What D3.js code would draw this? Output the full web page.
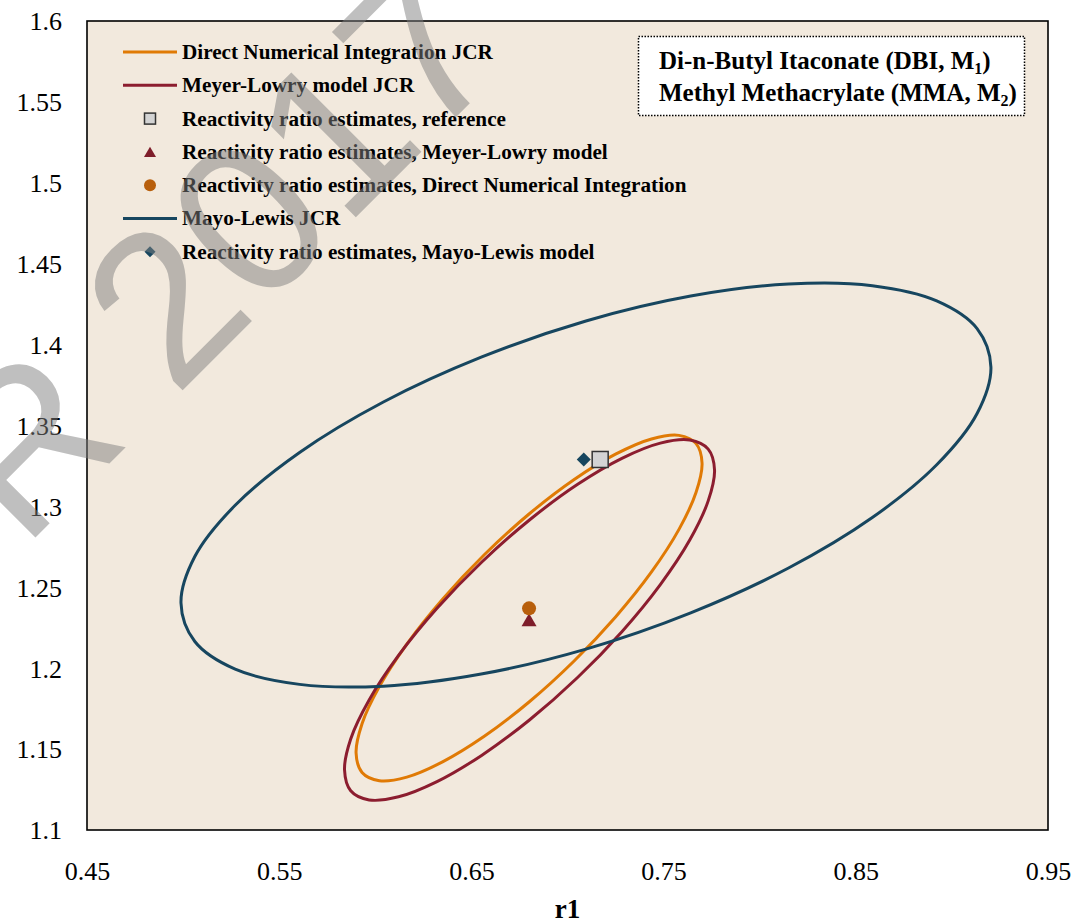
<!DOCTYPE html>
<html>
<head>
<meta charset="utf-8">
<script src="https://cdn.jsdelivr.net/npm/d3@7"></script>
<style>
  html, body { margin: 0; padding: 0; background: #ffffff; }
  svg { display: block; }
</style>
</head>
<body>
<svg id="chart" width="1086" height="923"></svg>
<script>
// Axis ticks and labels
const xTicks = [0.45, 0.55, 0.65, 0.75, 0.85, 0.95];
const xTickLabels = ["0.45", "0.55", "0.65", "0.75", "0.85", "0.95"];
const yTicks = [1.1, 1.15, 1.2, 1.25, 1.3, 1.35, 1.4, 1.45, 1.5, 1.55, 1.6];
const yTickLabels = ["1.1", "1.15", "1.2", "1.25", "1.3", "1.35", "1.4", "1.45", "1.5", "1.55", "1.6"];

// Joint confidence region outlines, [r1, r2] pairs
const dniJCR = [
  [0.7700, 1.3268], [0.7669, 1.3087], [0.7580, 1.2858], [0.7437, 1.2595],
  [0.7250, 1.2317], [0.7033, 1.2043], [0.6800, 1.1791], [0.6567, 1.1579],
  [0.6350, 1.1421], [0.6164, 1.1327], [0.6021, 1.1305], [0.5931, 1.1356],
  [0.5900, 1.1476], [0.5931, 1.1657], [0.6021, 1.1886], [0.6164, 1.2149],
  [0.6350, 1.2427], [0.6567, 1.2701], [0.6800, 1.2953], [0.7033, 1.3165],
  [0.7250, 1.3323], [0.7437, 1.3417], [0.7580, 1.3439], [0.7669, 1.3388]
];
const meyerLowryJCR = [
  [0.7765, 1.3225], [0.7732, 1.3034], [0.7636, 1.2792], [0.7483, 1.2517],
  [0.7283, 1.2226], [0.7051, 1.1941], [0.6802, 1.1680], [0.6553, 1.1461],
  [0.6321, 1.1299], [0.6121, 1.1205], [0.5968, 1.1186], [0.5872, 1.1243],
  [0.5840, 1.1371], [0.5872, 1.1563], [0.5968, 1.1804], [0.6121, 1.2079],
  [0.6321, 1.2370], [0.6553, 1.2655], [0.6802, 1.2916], [0.7051, 1.3135],
  [0.7283, 1.3297], [0.7483, 1.3391], [0.7636, 1.3410], [0.7732, 1.3354]
];
const mayoLewisJCR = [
  [0.9203, 1.3861], [0.9131, 1.4099], [0.8921, 1.4270], [0.8586, 1.4364],
  [0.8150, 1.4374], [0.7641, 1.4300], [0.7096, 1.4146], [0.6551, 1.3922],
  [0.6042, 1.3645], [0.5606, 1.3333], [0.5271, 1.3007], [0.5061, 1.2690],
  [0.4989, 1.2403], [0.5061, 1.2165], [0.5271, 1.1994], [0.5606, 1.1900],
  [0.6042, 1.1889], [0.6551, 1.1964], [0.7096, 1.2118], [0.7641, 1.2342],
  [0.8150, 1.2619], [0.8586, 1.2931], [0.8921, 1.3257], [0.9131, 1.3574]
];

// Point estimates [r1, r2]
const referenceEstimate = [0.717, 1.329];
const meyerLowryEstimate = [0.680, 1.230];
const dniEstimate = [0.680, 1.237];
const mayoLewisEstimate = [0.7095, 1.329];

// Legend entries
const legendLabels = [
  "Direct Numerical Integration JCR",
  "Meyer-Lowry model JCR",
  "Reactivity ratio estimates, reference",
  "Reactivity ratio estimates, Meyer-Lowry model",
  "Reactivity ratio estimates, Direct Numerical Integration",
  "Mayo-Lewis JCR",
  "Reactivity ratio estimates, Mayo-Lewis model"
];
const legendKinds = ["line", "line", "square", "triangle", "circle", "line", "diamond"];

const C = {
  dni: "#e07a05",
  ml: "#8c1d2f",
  mayo: "#17465f",
  dniPt: "#b85f0c",
  mlPt: "#7e1d2a",
  refFill: "#d3d3d3",
  plotBg: "#f2e9dd"
};
const legendColors = [C.dni, C.ml, C.refFill, C.mlPt, C.dniPt, C.mayo, C.mayo];

const serif = "'Liberation Serif', 'Times New Roman', serif";
const svg = d3.select("#chart");

const x = d3.scaleLinear().domain([0.45, 0.95]).range([87, 1048]);
const y = d3.scaleLinear().domain([1.1, 1.6]).range([830, 21]);

// plot area
svg.append("rect")
  .attr("x", x(0.45)).attr("y", y(1.6))
  .attr("width", x(0.95) - x(0.45)).attr("height", y(1.1) - y(1.6))
  .attr("fill", C.plotBg);

// axes (labels only)
const xAxis = svg.append("g")
  .attr("transform", `translate(0,${y(1.1)})`)
  .call(d3.axisBottom(x).tickValues(xTicks).tickSize(0)
    .tickFormat((d, i) => xTickLabels[i]));
xAxis.select(".domain").remove();
xAxis.selectAll("text")
  .attr("y", 50).attr("dy", null)
  .attr("font-family", serif).attr("font-size", 26).attr("fill", "#000");

const yAxis = svg.append("g")
  .attr("transform", `translate(${x(0.45)},0)`)
  .call(d3.axisLeft(y).tickValues(yTicks).tickSize(0)
    .tickFormat((d, i) => yTickLabels[i]));
yAxis.select(".domain").remove();
yAxis.selectAll("text")
  .attr("x", -25).attr("dy", "0.34em")
  .attr("font-family", serif).attr("font-size", 26).attr("fill", "#000");

svg.append("text")
  .attr("x", (x(0.45) + x(0.95)) / 2).attr("y", 918)
  .attr("text-anchor", "middle")
  .attr("font-family", serif).attr("font-weight", "bold").attr("font-size", 27)
  .text("r1");

// JCR outlines
const outline = d3.line()
  .x(d => x(d[0])).y(d => y(d[1]))
  .curve(d3.curveCatmullRomClosed.alpha(0.5));

const g = svg.append("g");
g.append("path").datum(dniJCR).attr("d", outline)
  .attr("fill", "none").attr("stroke", C.dni).attr("stroke-width", 3);
g.append("path").datum(meyerLowryJCR).attr("d", outline)
  .attr("fill", "none").attr("stroke", C.ml).attr("stroke-width", 3);

// marker helpers
function drawMarker(sel, kind, cx, cy, s, color) {
  if (kind === "square") {
    sel.append("rect").attr("x", cx - s / 2).attr("y", cy - s / 2)
      .attr("width", s).attr("height", s)
      .attr("fill", C.refFill).attr("stroke", "#333").attr("stroke-width", 1.5);
  } else if (kind === "triangle") {
    const h = s * 0.87;
    sel.append("path")
      .attr("d", `M${cx},${cy - h / 2}L${cx + s / 2},${cy + h / 2}L${cx - s / 2},${cy + h / 2}Z`)
      .attr("fill", color);
  } else if (kind === "circle") {
    sel.append("circle").attr("cx", cx).attr("cy", cy).attr("r", s / 2).attr("fill", color);
  } else if (kind === "diamond") {
    const r = s / 2;
    sel.append("path")
      .attr("d", `M${cx},${cy - r}L${cx + r},${cy}L${cx},${cy + r}L${cx - r},${cy}Z`)
      .attr("fill", color);
  }
}

drawMarker(g, "square", x(referenceEstimate[0]), y(referenceEstimate[1]), 16);
drawMarker(g, "triangle", x(meyerLowryEstimate[0]), y(meyerLowryEstimate[1]), 15, C.mlPt);
drawMarker(g, "circle", x(dniEstimate[0]), y(dniEstimate[1]), 14, C.dniPt);

g.append("path").datum(mayoLewisJCR).attr("d", outline)
  .attr("fill", "none").attr("stroke", C.mayo).attr("stroke-width", 3);
drawMarker(g, "diamond", x(mayoLewisEstimate[0]) - 2, y(mayoLewisEstimate[1]), 14, C.mayo);
// keep the reference square above the diamond
g.selectAll("rect").raise();

// legend
const legend = svg.append("g");
legendLabels.forEach((label, i) => {
  const ry = 52 + i * 33.3;
  const kind = legendKinds[i];
  if (kind === "line") {
    legend.append("line")
      .attr("x1", 123).attr("x2", 177).attr("y1", ry).attr("y2", ry)
      .attr("stroke", legendColors[i]).attr("stroke-width", 3);
  } else {
    drawMarker(legend, kind, 150, ry, kind === "diamond" ? 11 : (kind === "square" ? 11 : 12), legendColors[i]);
  }
  legend.append("text")
    .attr("x", 182).attr("y", ry).attr("dy", "0.33em")
    .attr("font-family", serif).attr("font-weight", "bold").attr("font-size", 21.2)
    .text(label);
});

// monomer pair box
const box = svg.append("g");
box.append("rect")
  .attr("x", 638.5).attr("y", 36.5).attr("width", 386).attr("height", 79)
  .attr("fill", "#ffffff").attr("stroke", "#000").attr("stroke-width", 1.5)
  .attr("stroke-dasharray", "1.5,1.5");
const line1 = box.append("text").attr("x", 659).attr("y", 69)
  .attr("font-family", serif).attr("font-weight", "bold").attr("font-size", 25);
line1.append("tspan").text("Di-n-Butyl Itaconate (DBI, M");
line1.append("tspan").attr("font-size", 16).attr("dy", 5).text("1");
line1.append("tspan").attr("dy", -5).text(")");
const line2 = box.append("text").attr("x", 659).attr("y", 101)
  .attr("font-family", serif).attr("font-weight", "bold").attr("font-size", 25);
line2.append("tspan").text("Methyl Methacrylate (MMA, M");
line2.append("tspan").attr("font-size", 16).attr("dy", 5).text("2");
line2.append("tspan").attr("dy", -5).text(")");

// plot frame
svg.append("rect")
  .attr("x", x(0.45)).attr("y", y(1.6))
  .attr("width", x(0.95) - x(0.45)).attr("height", y(1.1) - y(1.6))
  .attr("fill", "none").attr("stroke", "#000").attr("stroke-width", 1.6);

// watermark
svg.append("text")
  .attr("transform", "translate(23,550) rotate(-45)")
  .attr("font-family", "'Liberation Sans', Arial, sans-serif")
  .attr("font-size", 215)
  .attr("fill", "#808080").attr("fill-opacity", 0.5)
  .text("R 2017");
</script>
</body>
</html>
